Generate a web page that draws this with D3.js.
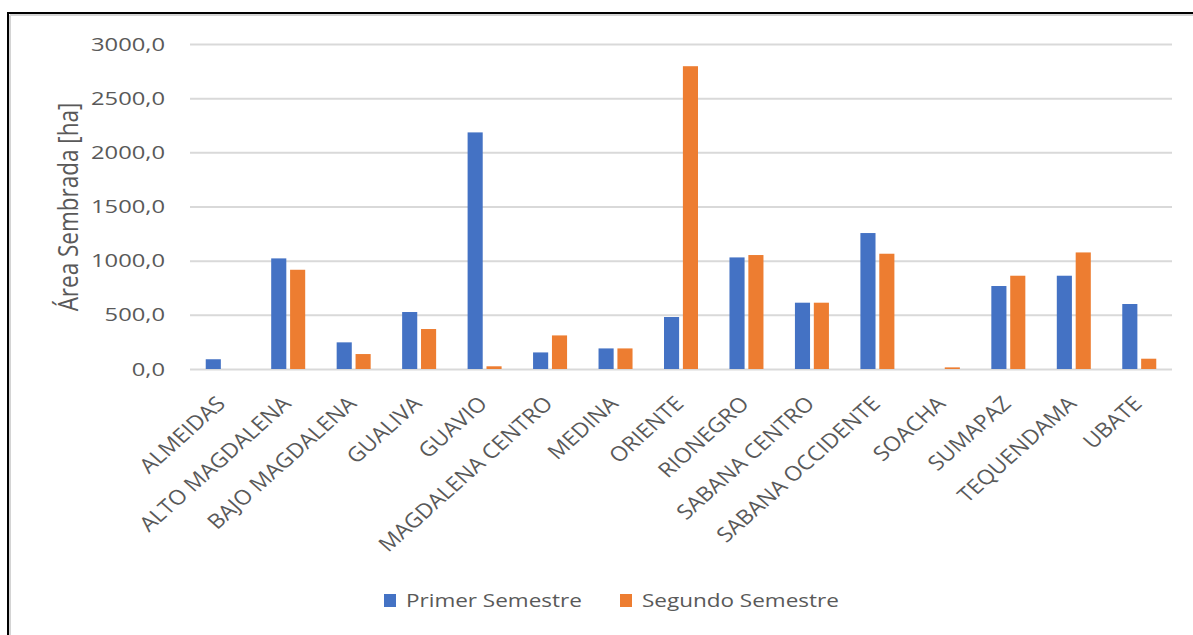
<!DOCTYPE html>
<html>
<head>
<meta charset="utf-8">
<script src="https://cdn.jsdelivr.net/npm/d3@7"></script>
<style>
  html, body { margin: 0; padding: 0; background: #fff; }
  svg { display: block; font-family: "Open Sans", sans-serif; }
</style>
</head>
<body>
<svg id="chart" width="1193" height="635"></svg>
<script>
// Área sembrada por provincia, primer y segundo semestre
const provincias = ["ALMEIDAS", "ALTO MAGDALENA", "BAJO MAGDALENA", "GUALIVA", "GUAVIO",
  "MAGDALENA CENTRO", "MEDINA", "ORIENTE", "RIONEGRO", "SABANA CENTRO",
  "SABANA OCCIDENTE", "SOACHA", "SUMAPAZ", "TEQUENDAMA", "UBATE"];
const primerSemestre  = [90, 1021, 246, 526, 2184, 153, 190, 480, 1030, 612, 1255, 0, 766, 861, 600];
const segundoSemestre = [0, 916, 138, 369, 25, 310, 190, 2795, 1052, 612, 1064, 15, 861, 1076, 95];
const seriesNames = ["Primer Semestre", "Segundo Semestre"];
const seriesColors = ["#4472c4", "#ed7d31"];
const yTicks = [0, 500, 1000, 1500, 2000, 2500, 3000];

const svg = d3.select("#chart");
const textColor = "#595959";
const stretch = 1.25;      // wide glyphs for horizontal text
const labelStretch = 1.12; // category labels

// Frame
svg.append("line").attr("x1", 10).attr("y1", 15).attr("x2", 1193).attr("y2", 15)
  .attr("stroke", "#d4d4d4").attr("stroke-width", 2);
svg.append("line").attr("x1", 10).attr("y1", 15).attr("x2", 10).attr("y2", 635)
  .attr("stroke", "#d4d4d4").attr("stroke-width", 2);
svg.append("line").attr("x1", 7).attr("y1", 13).attr("x2", 1193).attr("y2", 13)
  .attr("stroke", "#000").attr("stroke-width", 2);
svg.append("line").attr("x1", 8).attr("y1", 12).attr("x2", 8).attr("y2", 635)
  .attr("stroke", "#000").attr("stroke-width", 2);

const plot = { left: 190, right: 1172, top: 44, bottom: 369 };

const x0 = d3.scaleBand().domain(provincias).range([plot.left, plot.right]);
const x1 = d3.scaleBand().domain(seriesNames).range([-17, 17]).paddingInner(0.2);
const y = d3.scaleLinear().domain([0, 3000]).range([plot.bottom, plot.top]);

const fmt = v => d3.format(".1f")(v).replace(".", ",");

// Gridlines + y tick labels
const yAxis = d3.axisLeft(y).tickValues(yTicks).tickSize(-(plot.right - plot.left))
  .tickFormat(fmt).tickPadding(0);
const gy = svg.append("g").attr("transform", `translate(${plot.left},0)`).call(yAxis);
gy.select(".domain").remove();
gy.selectAll(".tick line").attr("stroke", "#d9d9d9").attr("stroke-width", 2);
gy.selectAll(".tick text")
  .attr("fill", textColor)
  .style("font-size", "19px")
  .style("font-family", "'Open Sans', sans-serif")
  .attr("x", -25 / stretch)
  .attr("transform", `scale(${stretch},1)`);

// Bars
const data = provincias.map((p, i) => ({ p, vals: [primerSemestre[i], segundoSemestre[i]] }));
const groups = svg.append("g").selectAll("g").data(data).join("g")
  .attr("transform", d => `translate(${x0(d.p) + x0.bandwidth() / 2},0)`);
groups.selectAll("rect")
  .data(d => d.vals.map((v, k) => ({ v, k })))
  .join("rect")
  .attr("x", d => x1(seriesNames[d.k]))
  .attr("width", x1.bandwidth())
  .attr("y", d => y(d.v))
  .attr("height", d => y(0) - y(d.v))
  .attr("fill", d => seriesColors[d.k]);

// Category labels (rotated)
const xAxis = d3.axisBottom(x0).tickSize(0).tickPadding(0);
const gx = svg.append("g").attr("transform", `translate(0,${plot.bottom})`).call(xAxis);
gx.select(".domain").remove();
gx.selectAll(".tick text")
  .attr("fill", textColor)
  .style("font-size", "20.5px")
  .style("font-family", "'Open Sans', sans-serif")
  .attr("text-anchor", "end")
  .attr("y", 0)
  .attr("dy", null)
  .attr("transform", `translate(4,36) scale(${labelStretch},1) rotate(-45)`);

// Y axis title
svg.append("text")
  .attr("transform", `translate(78,207) scale(${stretch},1) rotate(-90)`)
  .attr("text-anchor", "middle")
  .attr("fill", textColor)
  .style("font-size", "22.5px")
  .text("Área Sembrada [ha]");

// Legend
const legend = svg.append("g");
const legendX = [384, 620];
seriesNames.forEach((s, k) => {
  const g = legend.append("g").attr("transform", `translate(${legendX[k]},594)`);
  g.append("rect").attr("width", 12).attr("height", 13).attr("fill", seriesColors[k]);
  g.append("text")
    .attr("transform", `translate(22,13) scale(${stretch},1)`)
    .attr("fill", textColor)
    .style("font-size", "18px")
    .text(s);
});
</script>
</body>
</html>
